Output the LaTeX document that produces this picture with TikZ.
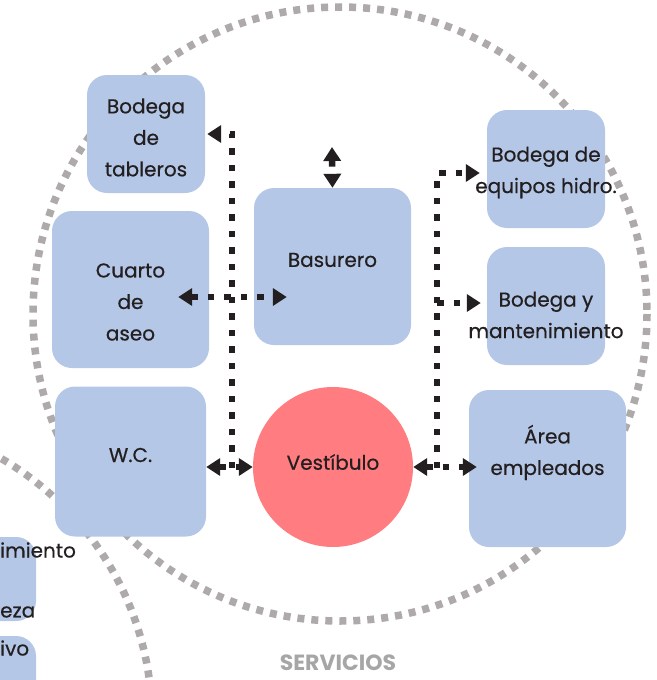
\documentclass[tikz,border=0pt]{standalone}
\usepackage{fontspec}
\setmainfont{Poppins}
\newfontfamily\roomfont{Poppins}[FakeBold=0.5]
\usetikzlibrary{arrows.meta}
\definecolor{boxblue}{HTML}{B4C7E7}
\definecolor{vestpink}{HTML}{FF7C80}
\definecolor{ringgray}{HTML}{AEAAAA}
\definecolor{ink}{HTML}{231F20}
\definecolor{labelgray}{HTML}{A6A6A6}
\begin{document}
\begin{tikzpicture}[x=1pt,y=-1pt,
  room/.style={fill=boxblue, draw=none, rounded corners=20pt, inner sep=0pt},
  roomtext/.style={text=ink, align=center, font=\roomfont\fontsize{20}{31.5}\selectfont},
  ring/.style={draw=ringgray, line width=7.5pt, dash pattern=on 7pt off 7pt},
  flowline/.style={draw=ink, line width=6.5pt, dash pattern=on 6.5pt off 10pt},
  flow/.style={flowline, -{Triangle[length=14pt,width=17pt]}},
  flowboth/.style={flowline, {Triangle[length=14pt,width=17pt]}-{Triangle[length=14pt,width=17pt]}}
]
\useasboundingbox (0,0) rectangle (656,680);
\clip (0,0) rectangle (656,680);

% cluster rings
\draw[ring] (340,314) circle[radius=307];
\draw[ring] (-150,720) circle[radius=302];

% partial rooms of the neighbouring cluster
\node[room, minimum width=130pt, minimum height=84pt] (l1) at (-29,579) {};
\node[room, minimum width=130pt, minimum height=90pt] (l2) at (-29,681) {};
\node[roomtext, anchor=west, inner sep=0pt] (l1a) at (0,550) {imiento};
\node[roomtext, anchor=west, inner sep=0pt] (l1b) at (0,612) {eza};
\node[roomtext, anchor=west, inner sep=0pt] (l2a) at (0,648) {ivo};

% rooms
\node[room, minimum width=118pt, minimum height=118pt,
  label={[roomtext, yshift=-3.5pt]center:Bodega\\de\\tableros}] (tableros) at (146,134) {};
\node[room, minimum width=157pt, minimum height=157pt,
  label={[roomtext, yshift=-12.5pt]center:Cuarto\\de\\aseo}] (aseo) at (130.5,289.5) {};
\node[room, minimum width=151pt, minimum height=150pt,
  label={[roomtext, yshift=6.5pt]center:W.C.}] (wc) at (130.5,461.5) {};
\node[room, minimum width=157pt, minimum height=157pt,
  label={[roomtext, yshift=6.5pt]center:Basurero}] (basurero) at (332.5,266.5) {};
\node[room, minimum width=118pt, minimum height=118pt,
  label={[roomtext, yshift=-3.5pt]center:Bodega de\\equipos hidro.}] (hidro) at (546,169) {};
\node[room, minimum width=118pt, minimum height=118pt,
  label={[roomtext, yshift=-9pt]center:Bodega y\\mantenimiento}] (mant) at (546,306) {};
\node[room, minimum width=157pt, minimum height=157pt,
  label={[roomtext, yshift=16pt]center:Área\\empleados}] (area) at (547.5,468.5) {};
\node[circle, fill=vestpink, draw=none, minimum size=160pt, inner sep=0pt,
  label={[roomtext, yshift=5pt]center:Vestíbulo}] (vest) at (333,467) {};

% connectors
\coordinate (lbot) at (232,468);
\coordinate (rbot) at (437,468);
\coordinate (rmid) at (437,303);
\coordinate (bastop) at (332,147);

\draw[flow] (lbot) |- ([xshift=2pt]tableros.east);
\draw[flowboth] (wc.east |- vest.west) -- (vest.west);
\draw[flowboth] ([shift={(-31,7.5)}]aseo.east) -- ([shift={(33,30.5)}]basurero.west);
\draw[flowboth] (bastop) -- (basurero.north);
\draw[flow] (rbot) |- ([shift={(-7,4)}]hidro.west);
\draw[flow] (rmid) -- ([shift={(-6,-3)}]mant.west);
\draw[flowboth] (vest.east) -- ([xshift=8pt]area.west |- vest.east);

% cluster name
\node[text=labelgray, font=\fontsize{22}{26}\selectfont\bfseries] (servicios) at (338,663) {SERVICIOS};
\end{tikzpicture}
\end{document}
